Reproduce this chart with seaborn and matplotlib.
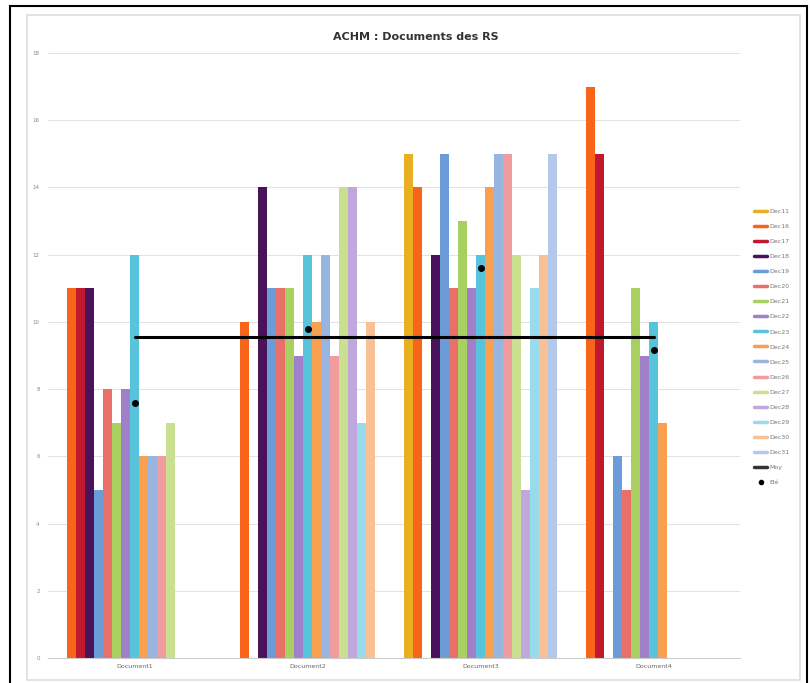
import numpy as np
import pandas as pd
import matplotlib
matplotlib.use("Agg")
import matplotlib.pyplot as plt
from matplotlib.lines import Line2D
from matplotlib.patches import Rectangle
import seaborn as sns

# Data
documents = ["Document1", "Document2", "Document3", "Document4"]
series = ["Dec11", "Dec16", "Dec17", "Dec18", "Dec19", "Dec20", "Dec21", "Dec22", "Dec23",
          "Dec24", "Dec25", "Dec26", "Dec27", "Dec28", "Dec29", "Dec30", "Dec31"]
doc1 = [0, 11, 11, 11, 5, 8, 7, 8, 12, 6, 6, 6, 7, 0, 0, 0, 0]
doc2 = [0, 10, 0, 14, 11, 11, 11, 9, 12, 10, 12, 9, 14, 14, 7, 10, 0]
doc3 = [15, 14, 0, 12, 15, 11, 13, 11, 12, 14, 15, 15, 12, 5, 11, 12, 15]
doc4 = [0, 17, 15, 0, 6, 5, 11, 9, 10, 7, 0, 0, 0, 0, 0, 0, 0]
moyenne = [9.55, 9.55, 9.55, 9.55]
points = [7.6, 9.8, 11.6, 9.15]
line_label = "Moy"
point_label = "Elé"

colors = ["#E8B020", "#F86418", "#C0182C", "#4A1258", "#6C9CD8", "#E87068", "#A8D060",
          "#A080C8", "#58C4DC", "#F8A050", "#98B4E0", "#F09C9C", "#C8E090", "#C0A8DC",
          "#98DCEC", "#F8C094", "#B4C8EC"]

rows = []
for doc, vals in zip(documents, [doc1, doc2, doc3, doc4]):
    for s, v in zip(series, vals):
        rows.append({"doc": doc, "serie": s, "val": v})
df = pd.DataFrame(rows)

sns.set_style("white")
fig = plt.figure(figsize=(8.1, 6.83), dpi=100)

# chart frames
fig.patches.append(Rectangle((10 / 810, -0.02), 797 / 810, 1.02 - 6 / 683, transform=fig.transFigure,
                             fill=False, edgecolor="black", lw=1.5))
fig.patches.append(Rectangle((27 / 810, 3 / 683), 773 / 810, 1 - 18 / 683, transform=fig.transFigure,
                             fill=False, edgecolor="#DDDDDD", lw=1.2))

ax = fig.add_axes([48 / 810, 1 - 658 / 683, (740 - 48) / 810, (658 - 53) / 683])
sns.barplot(data=df, x="doc", y="val", hue="serie", order=documents, hue_order=series,
            palette=colors, width=0.885, linewidth=0, saturation=1, ax=ax, legend=False)

ax.plot(range(len(documents)), moyenne, color="black", lw=2.2, zorder=5)
ax.plot(range(len(documents)), points, "o", color="black", ms=4, zorder=6)

ax.set_ylim(0, 18)
ax.set_xlim(-0.5, 3.5)
ax.set_yticks(np.arange(0, 19, 2))
ax.yaxis.grid(True, color="#E2E2E2", lw=0.7)
ax.set_axisbelow(True)
ax.tick_params(axis="y", labelsize=4, colors="#888888", length=0, pad=6)
ax.tick_params(axis="x", labelsize=4.5, colors="#666666", length=0, pad=4)
ax.set_xlabel("")
ax.set_ylabel("")
for side in ["top", "right", "left"]:
    ax.spines[side].set_visible(False)
ax.spines["bottom"].set_color("#CCCCCC")

fig.text(416 / 810, 1 - 37 / 683, "ACHM : Documents des RS", ha="center", va="center",
         fontsize=8, fontweight="bold", color="#333333")

handles = [Line2D([0], [0], color=c, lw=2.5) for c in colors]
handles.append(Line2D([0], [0], color="#333333", lw=2.5))
handles.append(Line2D([0], [0], marker="o", color="black", ls="none", ms=3))
labels = series + [line_label, point_label]
fig.legend(handles, labels, loc="upper left", bbox_to_anchor=(748 / 810, 1 - 203 / 683),
           frameon=False, fontsize=4.5, handlelength=2.2, labelspacing=1.55,
           handletextpad=0.3, labelcolor="#777777")

fig.savefig("out.png", dpi=100)
